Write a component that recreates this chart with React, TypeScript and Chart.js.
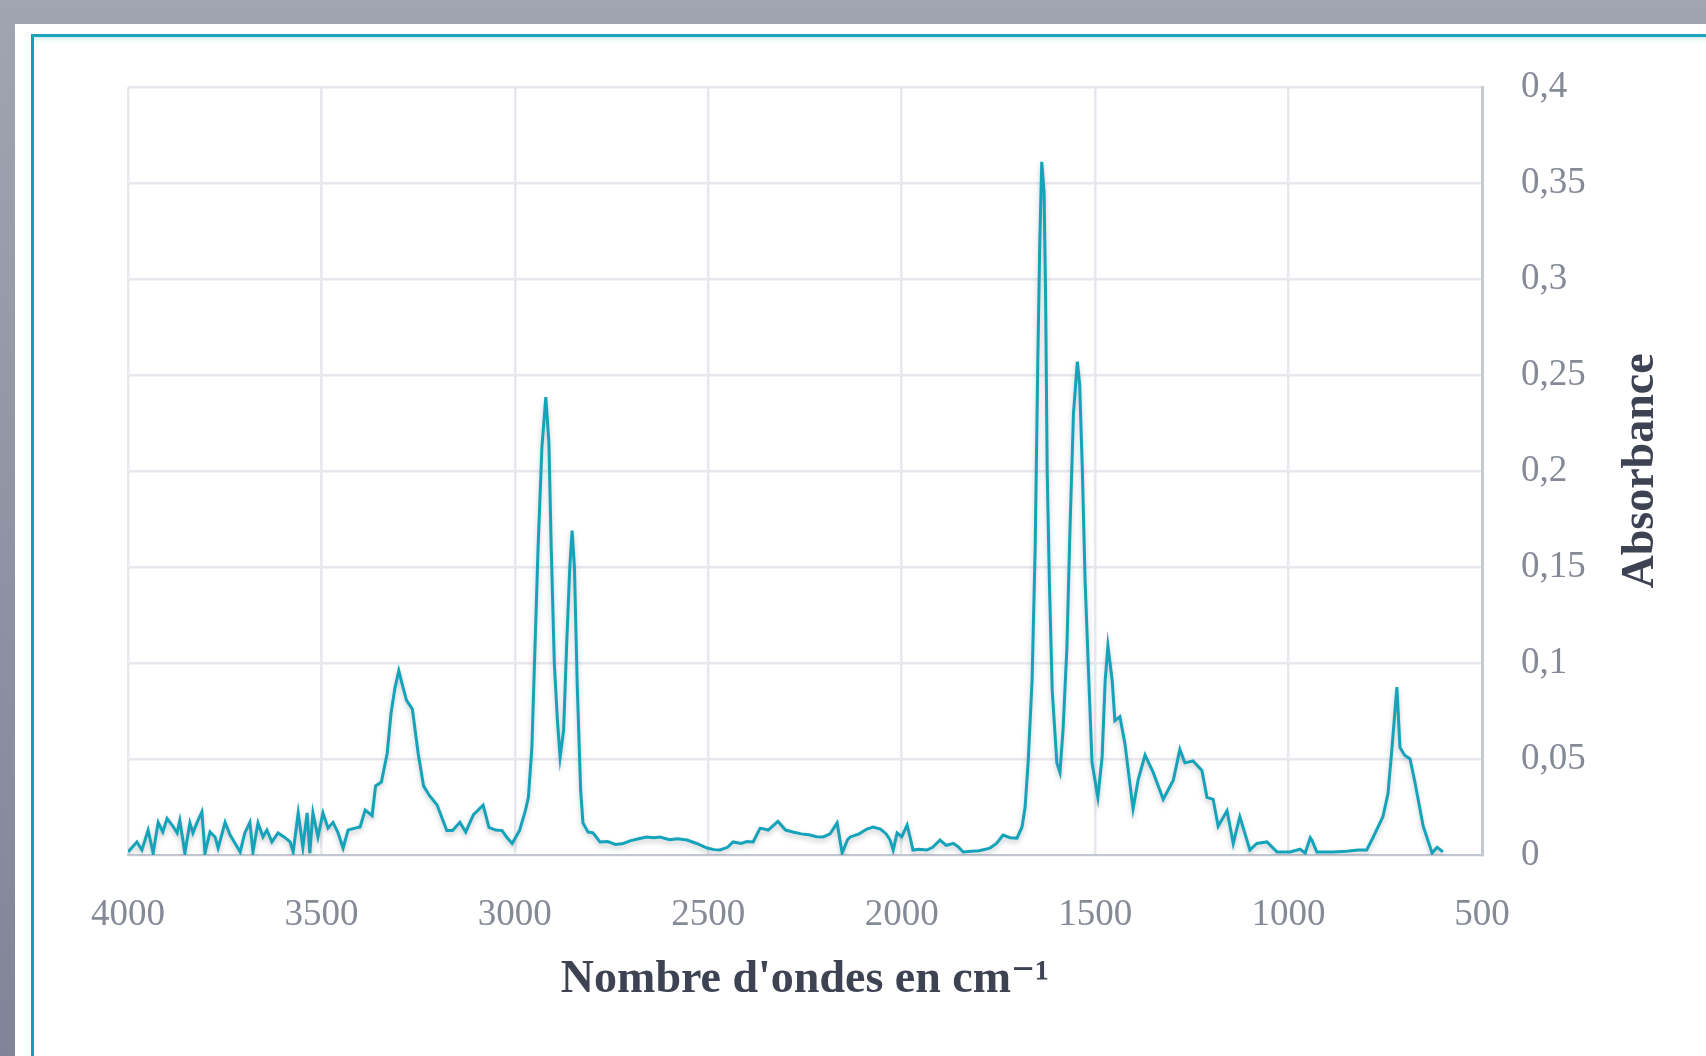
import React, { useEffect, useRef } from "react";
import { Chart, registerables } from "chart.js";

Chart.register(...registerables);

// Wavenumbers (cm-1) and absorbance
const wavenumbers = [
  4000, 3977, 3964, 3948, 3935, 3922, 3910, 3899, 3886, 3873, 3866, 3853, 3840, 3832, 3822, 3809, 3801,
  3788, 3775, 3767, 3749, 3736, 3723, 3710, 3698, 3685, 3677, 3664, 3651, 3641, 3628, 3612, 3594, 3581,
  3573, 3560, 3548, 3537, 3530, 3522, 3509, 3496, 3483, 3470, 3457, 3444, 3431, 3413, 3400, 3387, 3369,
  3360, 3345, 3330, 3320, 3310, 3300, 3290, 3280, 3265, 3250, 3236, 3221, 3201, 3176, 3161, 3142, 3127,
  3107, 3082, 3067, 3050, 3033, 3020, 3007, 2988, 2973, 2965, 2956, 2948, 2940, 2930, 2920, 2912, 2906,
  2898, 2890, 2883, 2874, 2866, 2858, 2852, 2846, 2839, 2830, 2824, 2811, 2798, 2780, 2760, 2740, 2720,
  2700, 2680, 2660, 2640, 2625, 2600, 2580, 2555, 2530, 2503, 2485, 2470, 2450, 2436, 2415, 2400, 2384,
  2366, 2345, 2320, 2300, 2281, 2260, 2240, 2220, 2203, 2185, 2167, 2154, 2140, 2133, 2110, 2090, 2074,
  2055, 2040, 2030, 2022, 2012, 2000, 1986, 1978, 1971, 1955, 1935, 1920, 1901, 1885, 1867, 1855, 1841,
  1820, 1800, 1772, 1755, 1738, 1720, 1702, 1689, 1681, 1673, 1663, 1655, 1648, 1643, 1638, 1632, 1628,
  1624, 1618, 1611, 1599, 1591, 1583, 1573, 1565, 1556, 1546, 1540, 1533, 1526, 1518, 1508, 1493, 1482,
  1474, 1467, 1456, 1449, 1436, 1423, 1402, 1389, 1371, 1350, 1324, 1298, 1281, 1268, 1247, 1224, 1211,
  1195, 1182, 1159, 1143, 1126, 1100, 1082, 1056, 1030, 996, 970, 957, 944, 940, 927, 885, 850, 820, 798,
  782, 756, 743, 733, 720, 712, 700, 686, 673, 652, 629, 616, 601,
];

const absorbance = [
  0.0016, 0.0068, 0.0026, 0.013, 0.001, 0.017, 0.012, 0.019, 0.0156, 0.0115, 0.018, 0.001, 0.0167, 0.0115, 0.0167, 0.0224, 0.001,
  0.012, 0.0094, 0.0036, 0.017, 0.0104, 0.006, 0.0016, 0.0115, 0.017, 0.0016, 0.0167, 0.0094, 0.013, 0.0068, 0.0115, 0.009, 0.0068,
  0.0016, 0.0219, 0.004, 0.0219, 0.001, 0.0219, 0.0094, 0.0219, 0.014, 0.017, 0.0115, 0.0036, 0.013, 0.014, 0.0146, 0.0234, 0.0205,
  0.036, 0.038, 0.053, 0.074, 0.087, 0.096, 0.088, 0.0805, 0.076, 0.053, 0.036, 0.031, 0.026, 0.0127, 0.0127, 0.017, 0.012,
  0.021, 0.026, 0.0144, 0.013, 0.0127, 0.009, 0.006, 0.0127, 0.023, 0.03, 0.056, 0.108, 0.16, 0.2125, 0.2385, 0.215, 0.16,
  0.1, 0.07, 0.051, 0.065, 0.11, 0.15, 0.169, 0.15, 0.09, 0.034, 0.0167, 0.012, 0.0115, 0.0068, 0.007, 0.0055, 0.006,
  0.0075, 0.0085, 0.0094, 0.009, 0.0094, 0.008, 0.0085, 0.0078, 0.006, 0.0036, 0.0028, 0.0026, 0.004, 0.0068, 0.006, 0.007, 0.0068,
  0.014, 0.013, 0.0175, 0.013, 0.012, 0.011, 0.0105, 0.0095, 0.0094, 0.011, 0.0167, 0.001, 0.008, 0.0094, 0.011, 0.0135, 0.0146,
  0.0135, 0.011, 0.0078, 0.0026, 0.0115, 0.0095, 0.0156, 0.009, 0.0026, 0.003, 0.0026, 0.004, 0.0078, 0.005, 0.006, 0.0045, 0.0016,
  0.002, 0.0022, 0.0036, 0.006, 0.0104, 0.009, 0.0088, 0.0146, 0.025, 0.049, 0.091, 0.16, 0.26, 0.32, 0.361, 0.345, 0.29,
  0.2, 0.14, 0.086, 0.048, 0.043, 0.065, 0.108, 0.17, 0.23, 0.257, 0.245, 0.2, 0.143, 0.1, 0.048, 0.03, 0.051,
  0.091, 0.109, 0.091, 0.07, 0.072, 0.058, 0.024, 0.039, 0.052, 0.043, 0.029, 0.039, 0.055, 0.048, 0.049, 0.044, 0.03,
  0.029, 0.015, 0.023, 0.006, 0.02, 0.0026, 0.006, 0.0068, 0.0016, 0.0016, 0.003, 0.001, 0.009, 0.0078, 0.0016, 0.0016, 0.002, 0.0026, 0.0026,
  0.009, 0.02, 0.032, 0.055, 0.0875, 0.056, 0.052, 0.05, 0.0375, 0.015, 0.001, 0.004, 0.0016,
];

const xTicks = [4000, 3500, 3000, 2500, 2000, 1500, 1000, 500];
const xTickLabels = ["4000", "3500", "3000", "2500", "2000", "1500", "1000", "500"];
const yTicks = [0, 0.05, 0.1, 0.15, 0.2, 0.25, 0.3, 0.35, 0.4];
const yTickLabels = ["0", "0,05", "0,1", "0,15", "0,2", "0,25", "0,3", "0,35", "0,4"];
const xTitle = "Nombre d'ondes en cm⁻¹";
const yTitle = "Absorbance";

const FONT = '"Liberation Serif", "DejaVu Serif", serif';
const TICK_COLOR = "#858a97";
const TITLE_COLOR = "#3e4354";
const LINE_COLOR = "#15a3ba";
const GRID_COLOR = "#e7e8ed";

function lookup(values: number[], labels: string[], v: number): string {
  const i = values.findIndex((t) => Math.abs(t - v) < 1e-6);
  return i >= 0 ? labels[i] : "";
}

const yTitlePlugin = {
  id: "yTitleRotated",
  afterDraw(chart: any) {
    const { ctx, chartArea } = chart;
    ctx.save();
    ctx.translate(chartArea.right + 171, (chartArea.top + chartArea.bottom) / 2);
    ctx.rotate(-Math.PI / 2);
    ctx.textAlign = "center";
    ctx.textBaseline = "alphabetic";
    ctx.font = `bold 46px ${FONT}`;
    ctx.fillStyle = TITLE_COLOR;
    ctx.fillText(yTitle, 0, 0);
    ctx.restore();
  },
};

const shadowPlugin = {
  id: "lineShadow",
  beforeDatasetsDraw(chart: any) {
    const ctx = chart.ctx;
    ctx.save();
    ctx.shadowColor = "rgba(70,75,90,0.3)";
    ctx.shadowBlur = 5;
    ctx.shadowOffsetY = 3;
  },
  afterDatasetsDraw(chart: any) {
    chart.ctx.restore();
  },
};

export default function App() {
  const canvasRef = useRef<HTMLCanvasElement | null>(null);

  useEffect(() => {
    if (!canvasRef.current) return;
    const chart = new Chart(canvasRef.current, {
      type: "line",
      data: {
        datasets: [
          {
            data: wavenumbers.map((x, i) => ({ x, y: absorbance[i] })),
            borderColor: LINE_COLOR,
            borderWidth: 3,
            pointRadius: 0,
            tension: 0,
            fill: false,
          },
        ],
      },
      options: {
        responsive: false,
        animation: false,
        devicePixelRatio: 1,
        layout: { padding: { left: 128, top: 87, right: 44, bottom: 51 } },
        plugins: { legend: { display: false }, tooltip: { enabled: false } },
        scales: {
          x: {
            type: "linear",
            reverse: true,
            min: 500,
            max: 4000,
            position: "bottom",
            afterFit: (s: any) => {
              s.height = 150;
            },
            afterBuildTicks: (s: any) => {
              s.ticks = xTicks.map((v) => ({ value: v }));
            },
            ticks: {
              callback: (v: any) => lookup(xTicks, xTickLabels, Number(v)),
              font: { family: FONT, size: 37 },
              color: TICK_COLOR,
              padding: 38,
              maxRotation: 0,
              autoSkip: false,
            },
            grid: { color: GRID_COLOR, lineWidth: 2.5, drawTicks: false },
            border: { display: true, color: "#c3c7d1", width: 2 },
            title: {
              display: true,
              text: xTitle,
              color: TITLE_COLOR,
              font: { family: FONT, size: 46, weight: "bold", lineHeight: 1 },
              padding: { top: 0, bottom: 2 },
            },
          },
          y: {
            type: "linear",
            position: "right",
            min: 0,
            max: 0.4,
            afterFit: (s: any) => {
              s.width = 180;
            },
            afterBuildTicks: (s: any) => {
              s.ticks = yTicks.map((v) => ({ value: v }));
            },
            ticks: {
              callback: (v: any) => lookup(yTicks, yTickLabels, Number(v)),
              font: { family: FONT, size: 37 },
              color: TICK_COLOR,
              padding: 39,
              crossAlign: "near",
            },
            grid: { color: GRID_COLOR, lineWidth: 2.5, drawTicks: false },
            border: { display: true, color: "#c5c9d3", width: 3 },
          },
        },
      } as any,
      plugins: [yTitlePlugin, shadowPlugin],
    });
    return () => chart.destroy();
  }, []);

  return (
    <div
      style={{
        position: "fixed",
        left: 0,
        top: 0,
        width: 1706,
        height: 1056,
        overflow: "hidden",
        background: "linear-gradient(#a0a5b1, #7f8498)",
      }}
    >
      <div style={{ position: "absolute", left: 15, top: 24, right: 0, bottom: 0, background: "#ffffff" }} />
      <div
        style={{
          position: "absolute",
          left: 31,
          top: 34,
          right: -20,
          bottom: -20,
          borderTop: "3px solid #1ba3bb",
          borderLeft: "3px solid #0fa1b9",
          boxShadow: "inset 0 4px 4px -2px rgba(23,163,185,0.22)",
        }}
      />
      <canvas ref={canvasRef} width={1706} height={1056} style={{ position: "absolute", left: 0, top: 0 }} />
    </div>
  );
}
